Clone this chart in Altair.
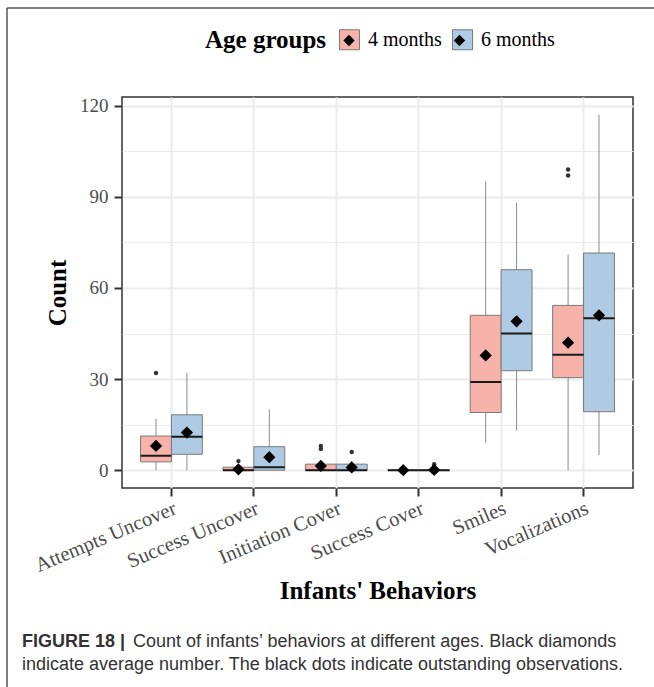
import altair as alt
import pandas as pd

# Behaviour categories and age groups
behaviors = ["Attempts Uncover", "Success Uncover", "Initiation Cover",
             "Success Cover", "Smiles", "Vocalizations"]
groups = ["4 months", "6 months"]

# Box-plot summaries per behaviour, 4 months
low_4 = [0, 0, 0, 0, 9, 0]
q1_4 = [2.75, 0, 0, 0, 19, 30.5]
med_4 = [4.8, 0, 0, 0, 29, 38]
q3_4 = [11.25, 1, 2, 0, 51, 54.25]
high_4 = [17, 2, 3, 0, 95, 71]
mean_4 = [8, 0.3, 1.4, 0, 37.8, 42]

# Box-plot summaries per behaviour, 6 months
low_6 = [0, 0, 0, 0, 13, 5]
q1_6 = [5.25, 0, 0, 0, 32.75, 19.25]
med_6 = [11, 1, 0, 0, 45, 50]
q3_6 = [18.25, 7.75, 2, 0, 66, 71.5]
high_6 = [32, 20, 3, 0, 88, 117]
mean_6 = [12.4, 4.3, 0.9, 0.1, 49, 51]

# Outlying observations (behaviour, group, value)
outlier_behavior = ["Attempts Uncover", "Success Uncover", "Initiation Cover",
                    "Initiation Cover", "Vocalizations", "Vocalizations",
                    "Initiation Cover", "Success Cover"]
outlier_group = ["4 months", "4 months", "4 months", "4 months",
                 "4 months", "4 months", "6 months", "6 months"]
outlier_value = [32, 3, 7, 8, 97, 99, 6, 2]

caption_bold = "FIGURE 18 |"
caption_line1 = "Count of infants\u2019 behaviors at different ages. Black diamonds"
caption_line2 = "indicate average number. The black dots indicate outstanding observations."

summary_rows = []
for g, lo, a, m, b, hi, mu in [
    ("4 months", low_4, q1_4, med_4, q3_4, high_4, mean_4),
    ("6 months", low_6, q1_6, med_6, q3_6, high_6, mean_6),
]:
    for i, beh in enumerate(behaviors):
        summary_rows.append(dict(behavior=beh, group=g, low=lo[i], q1=a[i],
                                 median=m[i], q3=b[i], high=hi[i], mean=mu[i]))
summary = pd.DataFrame(summary_rows)
outliers = pd.DataFrame(dict(behavior=outlier_behavior, group=outlier_group,
                             value=outlier_value))

SERIF = "Liberation Serif"
SANS = "Liberation Sans"
PINK = "#F7B2AA"
BLUE = "#AECBE3"
major = "datum.value % 30 === 0"
ZW = "\u200b"  # zero-width tag keeping the diamond legend separate

x_enc = alt.X(
    "behavior:N", sort=behaviors,
    scale=alt.Scale(paddingInner=0, paddingOuter=0.1),
    axis=alt.Axis(
        title="Infants' Behaviors", labelAngle=337, labelAlign="right",
        labelBaseline="top", labelFont=SERIF, labelFontSize=20.5,
        labelColor="#4D4D4D", labelPadding=2, tickSize=8, tickWidth=2,
        tickColor="#333333", grid=True, gridColor="#EBEBEB", gridWidth=2,
        bandPosition=0.5, domain=False, titleFont=SERIF, titleFontSize=25,
        titleFontWeight="bold", titleColor="black", titleY=110,
        titleBaseline="alphabetic",
    ),
)
xo_enc = alt.XOffset("group:N", sort=groups,
                     scale=alt.Scale(paddingInner=0, paddingOuter=1 / 3))
y_scale = alt.Scale(domain=[-5.85, 122.85], nice=False, zero=False)
y_axis = alt.Axis(
    values=list(range(0, 121, 15)),
    labelExpr=f"{major} ? datum.label : ''",
    tickOpacity={"condition": {"test": major, "value": 1}, "value": 0},
    gridWidth={"condition": {"test": major, "value": 2}, "value": 1},
    gridColor="#EBEBEB", tickSize=8, tickWidth=2, tickColor="#333333",
    labelFont=SERIF, labelFontSize=19, labelColor="#4D4D4D", labelPadding=6,
    domain=False, title="Count", titleFont=SERIF, titleFontSize=25,
    titleFontWeight="bold", titleColor="black", titleAngle=270,
    titleX=-57, titleY=195.5, titleBaseline="alphabetic", titleAlign="center",
)

base = alt.Chart(summary).encode(x=x_enc, xOffset=xo_enc)

whiskers = base.mark_rule(color="#8C8C8C", strokeWidth=1).encode(
    y=alt.Y("low:Q", scale=y_scale, axis=y_axis), y2="high:Q")

boxes = base.mark_bar(stroke="#7A7A7A", strokeWidth=1, opacity=1).encode(
    y=alt.Y("q1:Q", scale=y_scale, axis=y_axis), y2="q3:Q",
    fill=alt.Fill(
        "group:N", sort=groups,
        scale=alt.Scale(domain=groups, range=[PINK, BLUE]),
        legend=alt.Legend(
            title="Age groups", orient="none", legendX=83, legendY=-68,
            direction="horizontal", titleOrient="left", titleFont=SERIF,
            titleFontSize=25, titleFontWeight="bold", titleColor="black",
            titlePadding=12, labelFont=SERIF, labelFontSize=20,
            labelColor="black", symbolType="square", symbolSize=400,
            symbolStrokeColor="#7A7A7A", symbolStrokeWidth=1, symbolOpacity=1,
            labelOffset=8, columnPadding=8,
        ),
    ),
)

medians = base.mark_bar(stroke="#1A1A1A", strokeWidth=2, fill="#1A1A1A").encode(
    y=alt.Y("median:Q", scale=y_scale, axis=y_axis), y2="median:Q")

# Mean diamonds; their symbol-only legend is laid over the box legend keys
means = base.mark_point(filled=True, color="black", size=150, opacity=1).transform_calculate(
    age=f"datum.group + '{ZW}'"
).encode(
    y=alt.Y("mean:Q", scale=y_scale, axis=y_axis),
    shape=alt.Shape(
        "age:N",
        scale=alt.Scale(domain=[g + ZW for g in groups],
                        range=["diamond", "diamond"]),
        legend=alt.Legend(
            title="", orient="none", legendX=221, legendY=-62.7,
            direction="horizontal", labelExpr="''", labelOffset=0,
            columnPadding=98.5, symbolSize=130, symbolFillColor="black",
            symbolStrokeWidth=0, symbolOpacity=1,
        ),
    ),
)

dots = alt.Chart(outliers).mark_circle(color="#333333", size=20, opacity=1).encode(
    x=x_enc, xOffset=xo_enc, y=alt.Y("value:Q", scale=y_scale, axis=y_axis))

# Figure frame and caption, placed relative to the plot area
blank = alt.Data(values=[{}])
frame_top = alt.Chart(blank).mark_rule(color="#555555", strokeWidth=1.5).encode(
    x=alt.value(-115), x2=alt.value(540), y=alt.value(-89))
frame_left = alt.Chart(blank).mark_rule(color="#555555", strokeWidth=1.5).encode(
    x=alt.value(-115), y=alt.value(-89), y2=alt.value(600))

cap_style = dict(align="left", baseline="alphabetic", font=SANS,
                 fontSize=18, color="#333333")
cap_a = alt.Chart(blank).mark_text(fontWeight="bold", **cap_style).encode(
    x=alt.value(-100), y=alt.value(550), text=alt.value(caption_bold))
cap_b = alt.Chart(blank).mark_text(**cap_style).encode(
    x=alt.value(11), y=alt.value(550), text=alt.value(caption_line1))
cap_c = alt.Chart(blank).mark_text(**cap_style).encode(
    x=alt.value(-100), y=alt.value(573), text=alt.value(caption_line2))

chart = alt.layer(
    whiskers, boxes, medians, dots, means,
    frame_top, frame_left, cap_a, cap_b, cap_c,
).properties(
    width=511, height=391,
    autosize=alt.AutoSizeParams(type="none"),
    padding={"left": 122, "top": 97, "right": 21, "bottom": 199},
    background="white",
).configure_view(stroke="#333333", strokeWidth=1.5)

chart.save("out.html", embed_options={"renderer": "svg", "actions": False})
